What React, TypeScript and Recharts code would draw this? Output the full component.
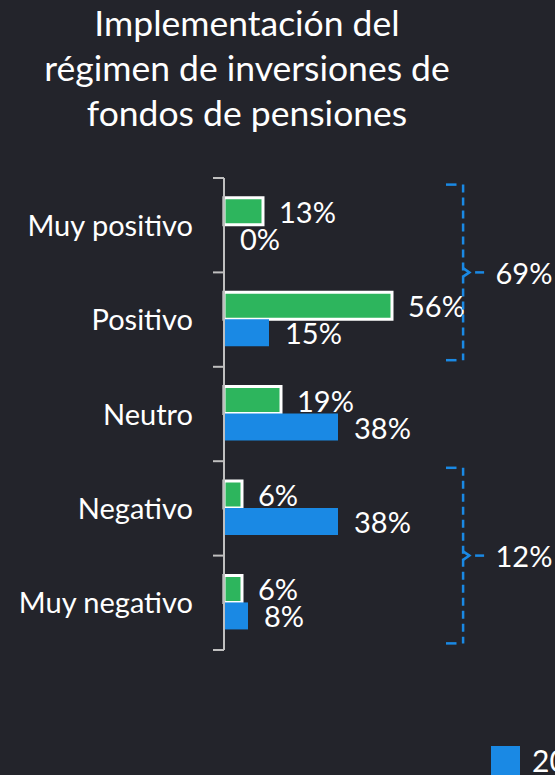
import { BarChart, Bar, XAxis, YAxis, LabelList, Legend, ScatterChart, Scatter } from 'recharts'

const categories = ['Muy positivo', 'Positivo', 'Neutro', 'Negativo', 'Muy negativo']
const current = [13, 56, 19, 6, 6]
const previous = [0, 15, 38, 38, 8]
const seriesNames = ['2024', '2023']
const groupLabels = ['69%', '12%']
const groupSpans = [
  ['Muy positivo', 'Positivo'],
  ['Negativo', 'Muy negativo'],
]

const BG = '#23242b'
const GREEN = '#2db55d'
const BLUE = '#1a89e4'
const AXIS = '#bfbfbf'
const FONT = 'Lato, "Open Sans", sans-serif'
const LEGEND_H = 29
const PLOT = { top: 178, right: 31, bottom: 125, left: 224 }

const data = categories.map((name, i) => ({ name, current: current[i], previous: previous[i] }))

// bracket layout (x in value units, y in category slots)
const BR_X = 79.7
const BR_STUB = 74
const BR_TIP = 81.8
const BR_DASH = [83.7, 86.7]
const BR_LABEL = 90.5
const BR_INSET = 0.07

const brackets = groupSpans.map((span, i) => {
  const top = categories.indexOf(span[0]) + BR_INSET
  const bottom = categories.indexOf(span[1]) + 1 - BR_INSET
  return { label: groupLabels[i], top, bottom, mid: (top + bottom) / 2 }
})

function CategoryTick(props: any) {
  const { x, y, payload, index } = props
  const half = payload?.offset ?? 47.2
  return (
    <g>
      <line x1={x - 11} x2={x} y1={y - half} y2={y - half} stroke={AXIS} strokeWidth={2} />
      {index === categories.length - 1 && (
        <line x1={x - 11} x2={x} y1={y + half} y2={y + half} stroke={AXIS} strokeWidth={2} />
      )}
      <text
        x={x - 31}
        y={y - 1}
        textAnchor="end"
        dominantBaseline="central"
        fill="#ffffff"
        fontSize={29}
        fontFamily={FONT}
      >
        {payload.value}
      </text>
    </g>
  )
}

function ValueLabel(props: any) {
  const { x, y, width, height, value } = props
  return (
    <text
      x={Number(x) + Number(width) + 16}
      y={Number(y) + Number(height) / 2}
      dominantBaseline="central"
      fill="#ffffff"
      fontSize={29}
      fontFamily={FONT}
    >
      {`${value}%`}
    </text>
  )
}

function LegendContent({ payload }: any) {
  const items = [...(payload ?? [])].sort((a: any, b: any) => String(a.value).localeCompare(String(b.value)))
  return (
    <div style={{ display: 'flex', alignItems: 'center', gap: 12, whiteSpace: 'nowrap', height: LEGEND_H }}>
      {items.map((p: any) => (
        <div key={p.value} style={{ display: 'flex', alignItems: 'center', gap: 12, height: LEGEND_H }}>
          <span style={{ width: 29, height: 29, background: p.color, display: 'inline-block' }} />
          <span style={{ color: '#fff', fontSize: 30, lineHeight: `${LEGEND_H}px`, fontFamily: FONT }}>{p.value}</span>
        </div>
      ))}
    </div>
  )
}

const noShape = () => <g />

function Brackets() {
  const solid = { stroke: BLUE, strokeWidth: 2.5, fill: 'none' }
  const dashed = { ...solid, strokeDasharray: '8 5' }
  return (
    <ScatterChart width={555} height={775} margin={PLOT}>
      <XAxis type="number" dataKey="x" domain={[0, 100]} allowDataOverflow hide />
      <YAxis type="number" dataKey="y" domain={[0, 5]} allowDataOverflow reversed hide />
      {brackets.map((b) => [
        <Scatter
          key={b.label + 'v'}
          data={[
            { x: BR_X, y: b.top },
            { x: BR_X, y: b.bottom },
          ]}
          line={dashed}
          shape={noShape}
          isAnimationActive={false}
        />,
        <Scatter
          key={b.label + 't'}
          data={[
            { x: BR_STUB, y: b.top },
            { x: BR_STUB + 3.5, y: b.top },
          ]}
          line={solid}
          shape={noShape}
          isAnimationActive={false}
        />,
        <Scatter
          key={b.label + 'b'}
          data={[
            { x: BR_STUB, y: b.bottom },
            { x: BR_STUB + 3.5, y: b.bottom },
          ]}
          line={solid}
          shape={noShape}
          isAnimationActive={false}
        />,
        <Scatter
          key={b.label + 'c'}
          data={[
            { x: BR_X, y: b.mid - 0.045 },
            { x: BR_TIP, y: b.mid },
            { x: BR_X, y: b.mid + 0.045 },
          ]}
          line={solid}
          shape={noShape}
          isAnimationActive={false}
        />,
        <Scatter
          key={b.label + 'd'}
          data={[
            { x: BR_DASH[0], y: b.mid },
            { x: BR_DASH[1], y: b.mid },
          ]}
          line={solid}
          shape={noShape}
          isAnimationActive={false}
        />,
        <Scatter
          key={b.label + 'l'}
          data={[{ x: BR_LABEL, y: b.mid, label: b.label }]}
          shape={noShape}
          isAnimationActive={false}
        >
          <LabelList
            dataKey="label"
            content={(p: any) => (
              <text
                x={Number(p.x) + Number(p.width ?? 0) / 2}
                y={Number(p.y) + Number(p.height ?? 0) / 2}
                dominantBaseline="central"
                fill="#ffffff"
                fontSize={29}
                fontFamily={FONT}
              >
                {p.value}
              </text>
            )}
          />
        </Scatter>,
      ])}
    </ScatterChart>
  )
}

export default function App() {
  return (
    <div style={{ position: 'relative', width: 555, height: 775, overflow: 'hidden', background: BG }}>
      <style>{`body{margin:0;background:${BG}}`}</style>
      <div
        style={{
          position: 'absolute',
          top: 0,
          left: 0,
          width: 494,
          textAlign: 'center',
          color: '#fff',
          fontFamily: FONT,
          fontSize: 35.5,
          lineHeight: '45px',
        }}
      >
        Implementación del
        <br />
        régimen de inversiones de
        <br />
        fondos de pensiones
      </div>
      <BarChart
        width={555}
        height={775}
        data={data}
        layout="vertical"
        margin={{ top: PLOT.top, right: PLOT.right, bottom: PLOT.bottom - LEGEND_H, left: 0 }}
        barCategoryGap="21%"
        barGap={0}
      >
        <XAxis type="number" domain={[0, 100]} hide />
        <YAxis
          type="category"
          dataKey="name"
          width={PLOT.left}
          axisLine={{ stroke: AXIS, strokeWidth: 2 }}
          tickLine={false}
          tickSize={0}
          tickMargin={0}
          interval={0}
          tick={<CategoryTick />}
        />
        <Bar
          dataKey="current"
          name={seriesNames[0]}
          fill={GREEN}
          stroke="#ffffff"
          strokeWidth={3}
          isAnimationActive={false}
        >
          <LabelList dataKey="current" content={<ValueLabel />} />
        </Bar>
        <Bar dataKey="previous" name={seriesNames[1]} fill={BLUE} minPointSize={0.01} isAnimationActive={false}>
          <LabelList dataKey="previous" content={<ValueLabel />} />
        </Bar>
        <Legend
          content={<LegendContent />}
          wrapperStyle={{ position: 'absolute', left: 491, top: 746, width: 400, height: LEGEND_H }}
        />
      </BarChart>
      <div style={{ position: 'absolute', top: 0, left: 0, pointerEvents: 'none' }}>
        <Brackets />
      </div>
    </div>
  )
}
